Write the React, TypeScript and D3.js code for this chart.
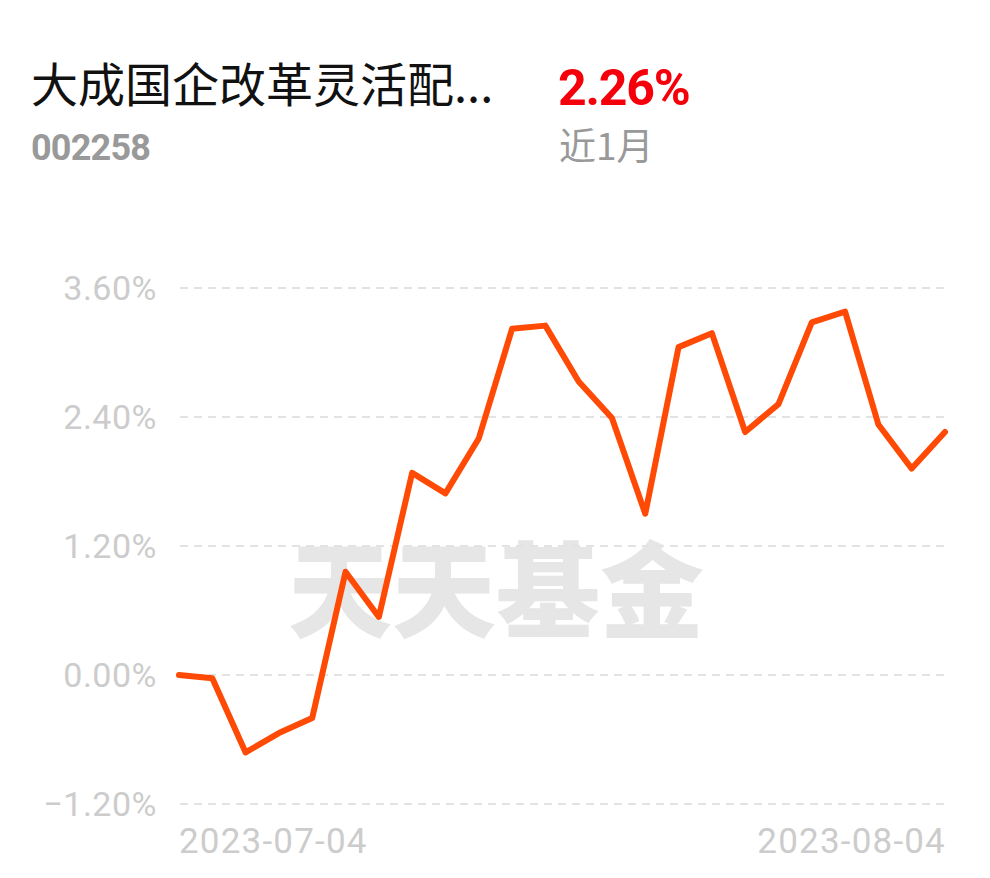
import React from "react";
import * as d3 from "d3";

const fundName = "大成国企改革灵活配...";
const fundCode = "002258";
const periodReturn = "2.26%";
const periodLabel = "近1月";
const watermark = "天天基金";

const dates = [
  "2023-07-04", "2023-07-05", "2023-07-06", "2023-07-07",
  "2023-07-10", "2023-07-11", "2023-07-12", "2023-07-13", "2023-07-14",
  "2023-07-17", "2023-07-18", "2023-07-19", "2023-07-20", "2023-07-21",
  "2023-07-24", "2023-07-25", "2023-07-26", "2023-07-27", "2023-07-28",
  "2023-07-31", "2023-08-01", "2023-08-02", "2023-08-03", "2023-08-04",
];
const values = [
  0.0, -0.03, -0.72, -0.54, -0.4, 0.96, 0.54, 1.88, 1.69, 2.2, 3.22, 3.25,
  2.73, 2.39, 1.5, 3.05, 3.18, 2.26, 2.52, 3.28, 3.38, 2.33, 1.92, 2.26,
];
const yTicks = [-1.2, 0, 1.2, 2.4, 3.6];
const xTickLabels = ["2023-07-04", "2023-08-04"];

export default function App() {
  const W = 990;
  const H = 878;
  const x = d3.scalePoint<string>().domain(dates).range([179, 945]);
  const y = d3.scaleLinear().domain([-1.2, 3.6]).range([804, 288]);
  const line = d3
    .line<number>()
    .x((_, i) => x(dates[i]) as number)
    .y((d) => y(d));
  const numFont = "Roboto, 'Noto Sans', sans-serif";
  const cjkFont = "'Noto Sans CJK SC', 'Noto Sans', sans-serif";
  return (
    <svg
      width={W}
      height={H}
      style={{ position: "absolute", left: 0, top: 0, background: "#fff" }}
    >
      <text x={31} y={102} fontFamily={cjkFont} fontSize={47} fill="#111">
        {fundName}
      </text>
      <text x={31} y={160} fontFamily={numFont} fontSize={36} fontWeight="bold" fill="#999" letterSpacing={-0.8}>
        {fundCode}
      </text>
      <text x={558} y={105} fontFamily={numFont} fontSize={50} fontWeight="bold" fill="#f5000a" letterSpacing={-1.2}>
        {periodReturn}
      </text>
      <text x={559} y={160} fontFamily={cjkFont} fontSize={37} fill="#999">
        {periodLabel}
      </text>

      <text
        x={496}
        y={630}
        textAnchor="middle"
        fontFamily={cjkFont}
        fontWeight={900}
        fontSize={104}
        fill="#e6e6e6"
      >
        {watermark}
      </text>

      {yTicks.map((t) => (
        <g key={t}>
          <line
            x1={180}
            x2={945}
            y1={y(t)}
            y2={y(t)}
            stroke="#e3e3e3"
            strokeWidth={2}
            strokeDasharray="8,6"
          />
          <text
            x={157}
            y={y(t) + 12}
            textAnchor="end"
            fontFamily={numFont}
            fontSize={34}
            fill="#cccccc"
            letterSpacing={0.5}
          >
            {(t === 0 ? "0.00" : t.toFixed(2)).replace("-", "−") + "%"}
          </text>
        </g>
      ))}

      <path
        d={line(values) || ""}
        fill="none"
        stroke="#ff4a05"
        strokeWidth={6}
        strokeLinejoin="round"
        strokeLinecap="round"
      />

      <text x={x(xTickLabels[0])} y={853} textAnchor="start" fontFamily={numFont} fontSize={35} fill="#cccccc" letterSpacing={1.2}>
        {xTickLabels[0]}
      </text>
      <text x={(x(xTickLabels[1]) as number) + 1} y={853} textAnchor="end" fontFamily={numFont} fontSize={35} fill="#cccccc" letterSpacing={1.2}>
        {xTickLabels[1]}
      </text>
    </svg>
  );
}
